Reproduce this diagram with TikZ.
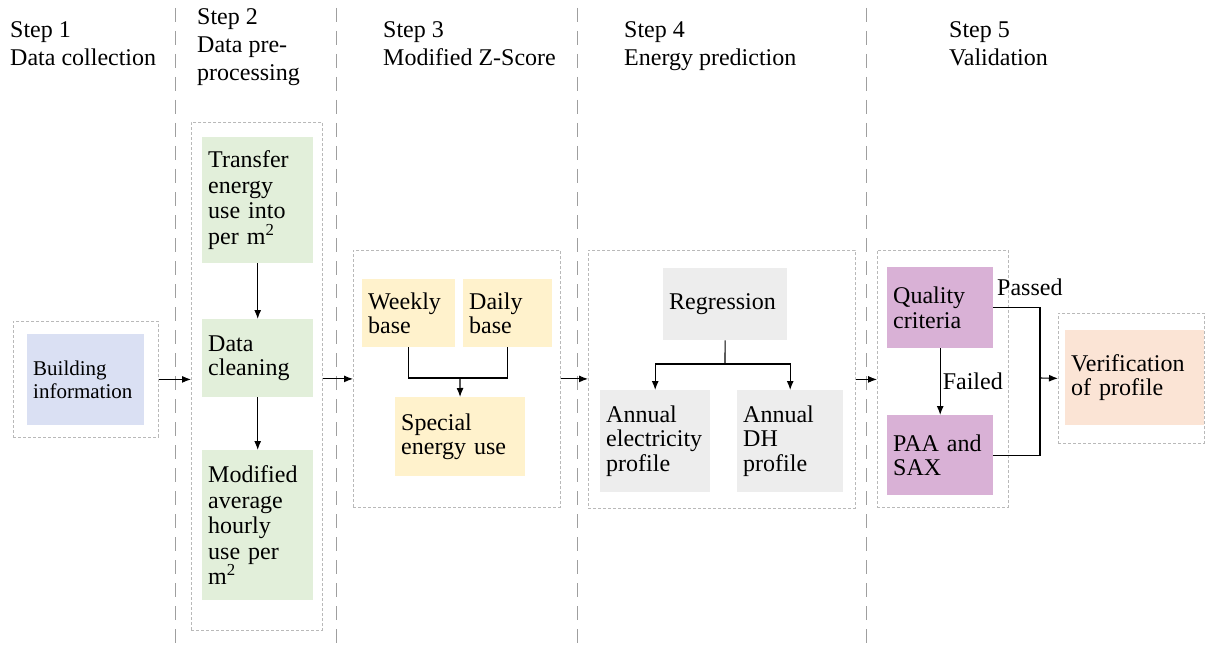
\documentclass[tikz,border=0pt]{standalone}
\usepackage{fontspec}
\setmainfont{Liberation Serif}
\usepackage{xcolor}
\usetikzlibrary{arrows.meta}
\definecolor{infoblue}{HTML}{DAE0F3}
\definecolor{prepgreen}{HTML}{E2EFDA}
\definecolor{zyellow}{HTML}{FFF2CC}
\definecolor{predgray}{HTML}{EDEDED}
\definecolor{valpurple}{HTML}{D9B1D6}
\definecolor{verpeach}{HTML}{FBE4D5}
\tikzset{
	sepline/.style={gray!75, line width=1pt, dash pattern=on 14pt off 9pt},
	frame/.style 2 args={draw=gray!55, line width=0.8pt, dash pattern=on 3pt off 2pt,
		minimum width=#1, minimum height=#2, anchor=north west, inner sep=0pt},
	blk/.style n args={3}{fill=#1, text width=#2, minimum height=#3, anchor=north west,
		inner xsep=6pt, inner ysep=3pt, align=left},
	head/.style={anchor=north west, inner sep=0pt, align=left, font=\fontsize{24}{28}\selectfont},
	conn/.style={line width=1.1pt},
	arr/.style={conn, -{Latex[length=9pt,width=7pt]}},
	lbl/.style={inner sep=2pt}
}

\begin{document}
\begin{tikzpicture}[x=1pt, y=-1pt, font=\fontsize{24}{24.5}\selectfont]
			\useasboundingbox (0,0) rectangle (1206,655);
			\draw [sepline] (175,8)--(175,652);
			\draw [sepline] (336,8)--(336,652);
			\draw [sepline] (577,8)--(577,652);
			\draw [sepline] (866,8)--(866,652);
			\node [head] (h1) at (10,21) {Step 1\\Data collection};
			\node [head] (h2) at (197,8) {Step 2\\Data pre-\\processing};
			\node [head] (h3) at (383,21) {Step 3\\Modified Z-Score};
			\node [head] (h4) at (624,21) {Step 4\\Energy prediction};
			\node [head] (h5) at (949,21) {Step 5\\Validation};
			\node [frame={145pt}{116pt}] (s1) at (13,321) {};
			\node [frame={131pt}{508pt}] (s2) at (191,122) {};
			\node [frame={207pt}{257pt}] (s3) at (353,250) {};
			\node [frame={267pt}{258pt}] (s4) at (588,250) {};
			\node [frame={131pt}{257pt}] (s5) at (877,250) {};
			\node [frame={146pt}{130pt}] (s6) at (1058,313) {};
			\node [blk={infoblue}{105pt}{91pt}, font=\fontsize{21}{23}\selectfont] (info) at (27,334) {Building\\information};
			\node [blk={prepgreen}{99pt}{126pt}, font=\fontsize{24}{25.5}\selectfont] (transfer) at (202,137) {Transfer\\energy\\use into\\per m\textsuperscript{2}};
			\node [blk={prepgreen}{99pt}{78pt}] (clean) at (202,319) {Data\\cleaning};
			\node [blk={prepgreen}{99pt}{150pt}, font=\fontsize{24}{25.5}\selectfont] (modavg) at (202,450) {Modified\\average\\hourly\\use per\\m\textsuperscript{2}};
			\node [blk={zyellow}{81pt}{68pt}] (weekly) at (362,279) {Weekly\\base};
			\node [blk={zyellow}{77pt}{68pt}] (daily) at (463,279) {Daily\\base};
			\node [blk={zyellow}{118pt}{79pt}] (special) at (395,397) {Special\\energy use};
			\node [blk={predgray}{112pt}{72pt}] (regr) at (663,268) {Regression};
			\node [blk={predgray}{98pt}{102pt}] (elec) at (600,390) {Annual\\electricity\\profile};
			\node [blk={predgray}{94pt}{102pt}] (dh) at (737,390) {Annual\\DH\\profile};
			\node [blk={valpurple}{94pt}{81pt}] (quality) at (887,267) {Quality\\criteria};
			\node [blk={valpurple}{94pt}{80pt}] (paa) at (887,415) {PAA and\\SAX};
			\node [blk={verpeach}{127pt}{95pt}] (verif) at (1065,330) {Verification\\of profile};
			\coordinate (j3) at (460,378);
			\coordinate (j4) at (725,364);
			\coordinate (j5) at (1040,378);
			\draw [arr] (s1.east)--(s1.east -| s2.west);
			\draw [arr] (transfer)--(clean);
			\draw [arr] (clean)--(modavg);
			\draw [arr] (s2.east |- s3.west)--(s3.west);
			\draw [conn] (weekly.south) |- (j3) -| (daily.south);
			\draw [arr] (j3)--(special);
			\draw [arr] (s3.east)--(s3.east -| s4.west);
			\draw [conn] (regr)--(j4);
			\draw [arr] (j4) -| (elec.north);
			\draw [arr] (j4) -| (dh.north);
			\draw [arr] (s4.east)--(s4.east -| s5.west);
			\draw [arr] (quality)--node [lbl, right] {Failed} (paa);
			\draw [conn] (quality.east) -| (j5) |- (paa.east);
			\draw [arr] (j5)--(s6.west);
			\node [lbl, anchor=base west] (passed) at (995,295) {Passed};
		\end{tikzpicture}
\end{document}
